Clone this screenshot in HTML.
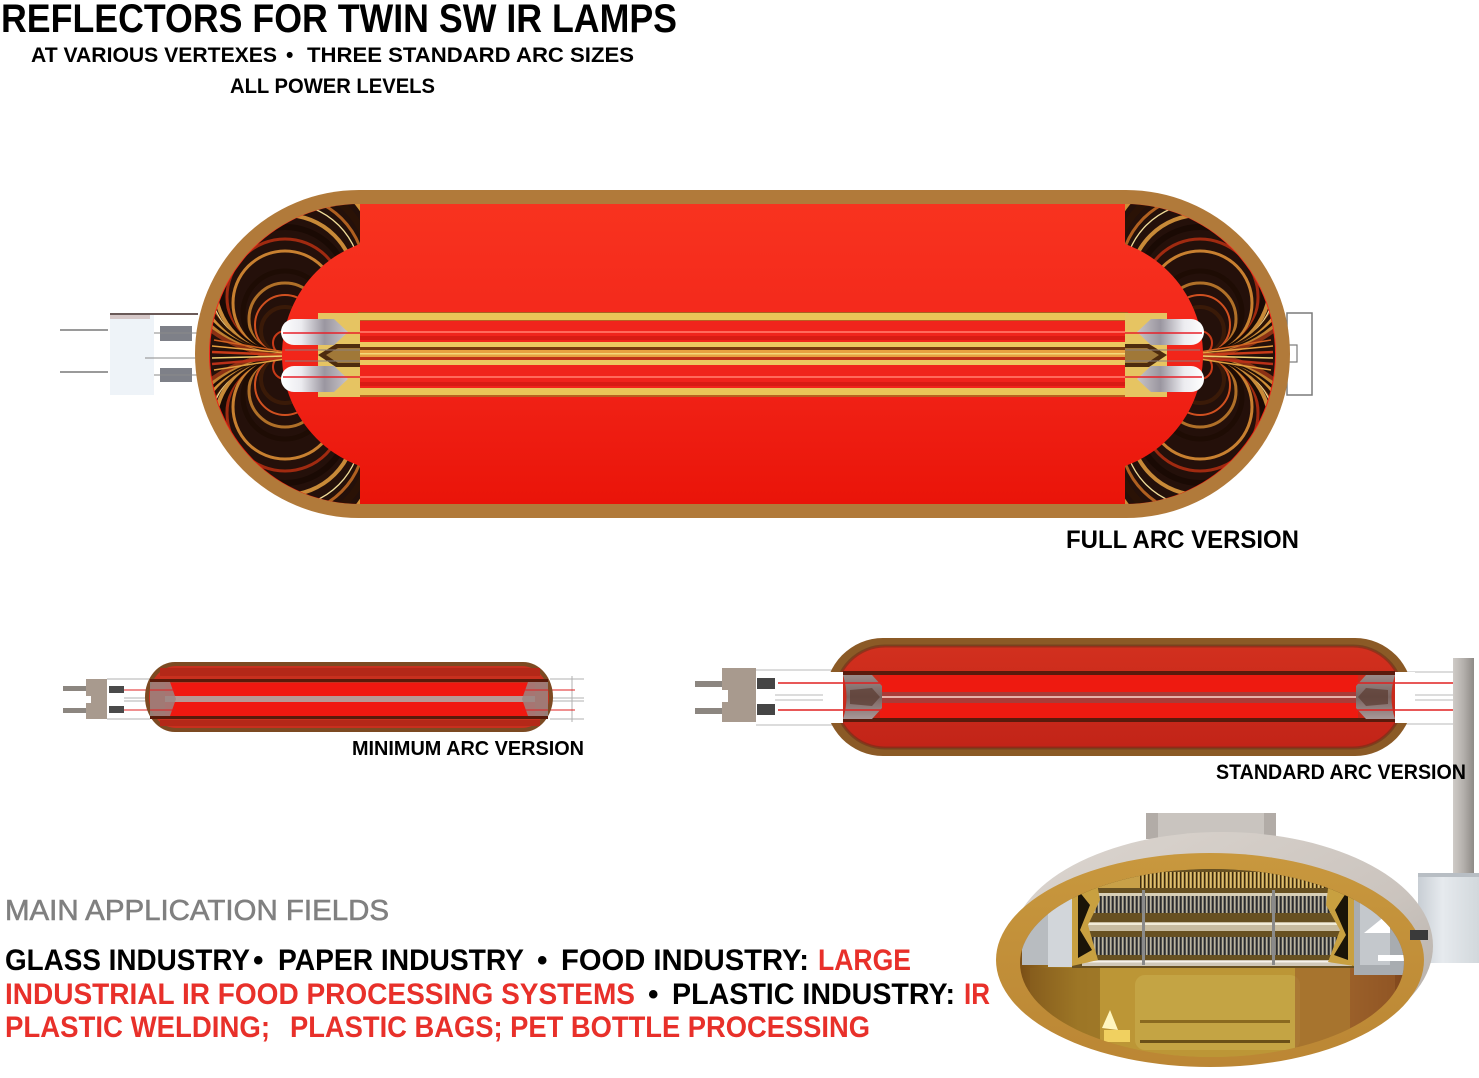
<!DOCTYPE html>
<html><head><meta charset="utf-8"><style>
html,body{margin:0;padding:0;background:#fff;}
svg{display:block;}
text{font-family:"Liberation Sans",sans-serif;}
</style></head><body>
<svg width="1479" height="1078" viewBox="0 0 1479 1078" xmlns="http://www.w3.org/2000/svg" xmlns:xlink="http://www.w3.org/1999/xlink">
<defs>
 <linearGradient id="redFull" x1="0" y1="0" x2="0" y2="1">
  <stop offset="0" stop-color="#f8331f"/>
  <stop offset="0.5" stop-color="#f2261a"/>
  <stop offset="1" stop-color="#ea1409"/>
 </linearGradient>
 <linearGradient id="redStd" x1="0" y1="0" x2="0" y2="1">
  <stop offset="0" stop-color="#d2301e"/>
  <stop offset="1" stop-color="#c22418"/>
 </linearGradient>
 <linearGradient id="silver" x1="0" y1="0" x2="1" y2="0">
  <stop offset="0" stop-color="#ffffff"/>
  <stop offset="0.3" stop-color="#ececf0"/>
  <stop offset="0.65" stop-color="#9a96a0"/>
  <stop offset="1" stop-color="#c8c4c8"/>
 </linearGradient>
 <linearGradient id="capGray" x1="0" y1="0" x2="0" y2="1">
  <stop offset="0" stop-color="#9a8a88"/>
  <stop offset="0.5" stop-color="#7a6460"/>
  <stop offset="1" stop-color="#a89898"/>
 </linearGradient>
 <linearGradient id="post" x1="0" y1="0" x2="1" y2="0">
  <stop offset="0" stop-color="#cfcbc7"/>
  <stop offset="0.5" stop-color="#b4b0ac"/>
  <stop offset="1" stop-color="#8e8a86"/>
 </linearGradient>
 <linearGradient id="shell" x1="0" y1="0" x2="1" y2="1">
  <stop offset="0" stop-color="#dcd6d0"/>
  <stop offset="0.6" stop-color="#cbc4be"/>
  <stop offset="1" stop-color="#aea8a2"/>
 </linearGradient>
 <linearGradient id="ring" x1="0" y1="0" x2="0" y2="1">
  <stop offset="0" stop-color="#c8983e"/>
  <stop offset="1" stop-color="#bb8634"/>
 </linearGradient>
 <linearGradient id="inner" x1="0" y1="0" x2="1" y2="0">
  <stop offset="0" stop-color="#7a4e16"/>
  <stop offset="0.15" stop-color="#b08a2c"/>
  <stop offset="0.5" stop-color="#c4a040"/>
  <stop offset="0.8" stop-color="#a87030"/>
  <stop offset="1" stop-color="#80461c"/>
 </linearGradient>
 <linearGradient id="box" x1="0" y1="0" x2="1" y2="0">
  <stop offset="0" stop-color="#c8ced4"/>
  <stop offset="0.4" stop-color="#e6eaee"/>
  <stop offset="1" stop-color="#d2d8dc"/>
 </linearGradient>
 <pattern id="coil" width="4" height="30" patternUnits="userSpaceOnUse">
  <rect width="4" height="30" fill="#707070"/>
  <rect width="1.5" height="30" fill="#2a2a2a"/>
  <rect x="2.2" width="1" height="30" fill="#d0c6a8"/>
 </pattern>
 <pattern id="coilGold" width="4" height="30" patternUnits="userSpaceOnUse">
  <rect width="4" height="30" fill="#b08a3a"/>
  <rect width="1.3" height="30" fill="#3a2a10"/>
  <rect x="2.3" width="1" height="30" fill="#f0d890"/>
 </pattern>
 <mask id="mL" maskUnits="userSpaceOnUse" x="0" y="0" width="1479" height="1078">
  <rect x="0" y="0" width="1479" height="1078" fill="black"/>
  <path d="M360,204 A150,150 0 0 0 360,504 Z" fill="white"/>
  <circle cx="400" cy="355" r="118" fill="black"/>
 </mask>
 <clipPath id="clipInner">
  <ellipse cx="1212" cy="963" rx="192" ry="94"/>
 </clipPath>
 <g id="arcsTop" fill="none">
  <circle cx="285" cy="343" r="12" stroke="#c83a18" stroke-width="2"/>
  <circle cx="285" cy="331" r="24" stroke="#3a1a08" stroke-width="4"/>
  <circle cx="285" cy="325" r="30" stroke="#d05020" stroke-width="2"/>
  <circle cx="285" cy="319" r="36" stroke="#b07028" stroke-width="3"/>
  <circle cx="285" cy="313" r="42" stroke="#1e0c04" stroke-width="5"/>
  <circle cx="285" cy="303" r="52" stroke="#c88030" stroke-width="3"/>
  <circle cx="285" cy="297" r="58" stroke="#a02a10" stroke-width="3"/>
  <circle cx="285" cy="291" r="64" stroke="#1a0a04" stroke-width="6"/>
  <circle cx="285" cy="285" r="70" stroke="#c88a38" stroke-width="4"/>
  <circle cx="285" cy="279" r="76" stroke="#f0dc98" stroke-width="1.3"/>
  <circle cx="285" cy="275" r="80" stroke="#b06020" stroke-width="3"/>
  <circle cx="285" cy="269" r="86" stroke="#2a1206" stroke-width="7"/>
  <circle cx="285" cy="262" r="93" stroke="#d09038" stroke-width="5"/>
  <circle cx="285" cy="256" r="99" stroke="#b83818" stroke-width="2.5"/>
  <circle cx="285" cy="250" r="105" stroke="#1e0e06" stroke-width="7"/>
  <circle cx="285" cy="243" r="112" stroke="#c08030" stroke-width="5"/>
  <circle cx="285" cy="237" r="118" stroke="#f2e2a0" stroke-width="1.3"/>
  <circle cx="285" cy="231" r="124" stroke="#8a3014" stroke-width="4"/>
 </g>
 <g id="endL">
  <g mask="url(#mL)">
   <rect x="200" y="200" width="170" height="310" fill="#24100a"/>
   <use xlink:href="#arcsTop"/>
   <use xlink:href="#arcsTop" transform="translate(0,710) scale(1,-1)"/>
   <g stroke-width="1.5" fill="none">
    <path d="M212,346 L285,353" stroke="#e8a040"/>
    <path d="M212,352 L285,355" stroke="#c83a18" stroke-width="2.5"/>
    <path d="M212,358 L285,356" stroke="#f0d070"/>
    <path d="M212,364 L285,358" stroke="#b83018" stroke-width="2.5"/>
    <path d="M214,340 L285,352" stroke="#d06020"/>
    <path d="M214,370 L285,359" stroke="#e0a040"/>
   </g>
  </g>
  <rect x="318" y="313" width="42" height="84" fill="#e6c462"/>
  <path d="M318,355 L336,344 L360,344 L360,367 L336,367 Z" fill="#4e2c0e"/>
  <path d="M326,355 L338,348 L360,348 L360,363 L338,363 Z" fill="#a07838"/>
  <path d="M294,319 L334,319 L348,332 L334,345 L294,345 A13,13 0 0 1 294,319 Z" fill="url(#silver)"/>
  <path d="M294,366 L334,366 L348,379 L334,392 L294,392 A13,13 0 0 1 294,366 Z" fill="url(#silver)"/>
  <line x1="283" y1="333" x2="360" y2="333" stroke="#e8202a" stroke-width="1.6"/>
  <line x1="283" y1="377" x2="360" y2="377" stroke="#e8202a" stroke-width="1.6"/>
  <line x1="285" y1="350" x2="360" y2="350" stroke="#8a8080" stroke-width="1"/>
  <line x1="285" y1="361" x2="360" y2="361" stroke="#8a8080" stroke-width="1"/>
 </g>
</defs>

<!-- ================= TITLES ================= -->
<text x="1" y="32" font-size="40" font-weight="bold" fill="#000" textLength="676" lengthAdjust="spacingAndGlyphs">REFLECTORS FOR TWIN SW IR LAMPS</text>
<text x="31" y="62" font-size="21" font-weight="bold" fill="#000" textLength="246" lengthAdjust="spacingAndGlyphs">AT VARIOUS VERTEXES</text>
<text x="286" y="62" font-size="21" font-weight="bold" fill="#000">•</text>
<text x="307" y="62" font-size="21" font-weight="bold" fill="#000" textLength="327" lengthAdjust="spacingAndGlyphs">THREE STANDARD ARC SIZES</text>
<text x="230" y="93" font-size="21" font-weight="bold" fill="#000" textLength="205" lengthAdjust="spacingAndGlyphs">ALL POWER LEVELS</text>

<!-- ================= FULL ARC LAMP ================= -->
<line x1="60" y1="330" x2="108" y2="330" stroke="#9a9a9a" stroke-width="2"/>
<line x1="60" y1="372" x2="108" y2="372" stroke="#9a9a9a" stroke-width="2"/>
<rect x="110" y="313" width="44" height="82" fill="#eef3f8"/>
<rect x="110" y="313" width="88" height="2" fill="#6a5a58"/>
<rect x="110" y="315" width="40" height="4" fill="#d6c8c8"/>
<line x1="145" y1="358" x2="200" y2="358" stroke="#8a8a8a" stroke-width="1"/>
<rect x="160" y="326" width="32" height="15" fill="#7e8088"/>
<rect x="160" y="368" width="32" height="14" fill="#7e8088"/>
<line x1="154" y1="333" x2="200" y2="333" stroke="#8a8a8a" stroke-width="1"/>
<line x1="154" y1="375" x2="200" y2="375" stroke="#8a8a8a" stroke-width="1"/>
<rect x="1287" y="313" width="25" height="82" fill="#fff" stroke="#7a7a7a" stroke-width="1.5"/>
<rect x="1287" y="345" width="10" height="17" fill="#fff" stroke="#7a7a7a" stroke-width="1.2"/>

<rect x="195" y="190" width="1095" height="328" rx="164" ry="164" fill="#b17a3a"/>
<rect x="209" y="204" width="1067" height="300" rx="150" ry="150" fill="url(#redFull)"/>

<g>
 <rect x="358" y="312" width="770" height="1.5" fill="#a86020"/>
 <rect x="358" y="313" width="770" height="7" fill="#eac458"/>
 <rect x="358" y="320" width="770" height="1.5" fill="#b86020"/>
 <rect x="358" y="321" width="770" height="21" fill="#f0241c"/>
 <rect x="358" y="331" width="770" height="2" fill="#ff6a5c"/>
 <rect x="358" y="336" width="770" height="4" fill="#d81c14"/>
 <rect x="358" y="342" width="770" height="5" fill="#ecc860"/>
 <rect x="358" y="347" width="770" height="3" fill="#7a3a10"/>
 <rect x="358" y="350" width="770" height="7" fill="#e8a040"/>
 <rect x="358" y="353" width="770" height="1.5" fill="#f4d878"/>
 <rect x="358" y="357" width="770" height="3" fill="#c03018"/>
 <rect x="358" y="360" width="770" height="5" fill="#ecc860"/>
 <rect x="358" y="365" width="770" height="23" fill="#f0241c"/>
 <rect x="358" y="376" width="770" height="2" fill="#ff6a5c"/>
 <rect x="358" y="382" width="770" height="4" fill="#d81c14"/>
 <rect x="358" y="388" width="770" height="7" fill="#eac458"/>
 <rect x="358" y="395" width="770" height="2" fill="#b86020"/>
</g>
<use xlink:href="#endL"/>
<use xlink:href="#endL" transform="translate(1485,0) scale(-1,1)"/>

<text x="1066" y="548" font-size="25" font-weight="bold" fill="#000" textLength="233" lengthAdjust="spacingAndGlyphs">FULL ARC VERSION</text>

<!-- ================= MINIMUM ARC LAMP ================= -->
<rect x="63" y="686" width="23" height="5" fill="#8c8680"/>
<rect x="63" y="708" width="23" height="5" fill="#8c8680"/>
<path d="M86,679 L107,679 L107,719 L86,719 L86,703 L91,703 L91,696 L86,696 Z" fill="#a89a8e"/>
<rect x="109" y="686" width="15" height="7" fill="#4a4a4a"/>
<rect x="109" y="706" width="15" height="7" fill="#4a4a4a"/>
<g stroke="#b0b0b0" stroke-width="1">
 <line x1="107" y1="679" x2="150" y2="679"/>
 <line x1="124" y1="698" x2="150" y2="698"/>
 <line x1="124" y1="701" x2="150" y2="701"/>
 <line x1="107" y1="719" x2="150" y2="719"/>
 <line x1="550" y1="679" x2="584" y2="679"/>
 <line x1="550" y1="698" x2="584" y2="698"/>
 <line x1="550" y1="701" x2="584" y2="701"/>
 <line x1="550" y1="719" x2="584" y2="719"/>
 <line x1="572" y1="676" x2="572" y2="722"/>
</g>
<line x1="124" y1="690" x2="150" y2="690" stroke="#e02020" stroke-width="1"/>
<line x1="124" y1="710" x2="150" y2="710" stroke="#e02020" stroke-width="1"/>
<line x1="550" y1="690" x2="575" y2="690" stroke="#e02020" stroke-width="1"/>
<line x1="550" y1="710" x2="575" y2="710" stroke="#e02020" stroke-width="1"/>
<rect x="145" y="662" width="408" height="70" rx="30" ry="35" fill="#7c4a22"/>
<rect x="149" y="666" width="400" height="62" rx="27" ry="31" fill="#c8301e"/>
<rect x="160" y="668" width="380" height="8" fill="#b42818"/>
<rect x="160" y="720" width="380" height="6" fill="#b42818"/>
<rect x="150" y="679" width="398" height="3" fill="#5a1a0a"/>
<rect x="165" y="683" width="370" height="13" fill="#f01810"/>
<rect x="165" y="696" width="370" height="6" fill="#b89894"/>
<rect x="165" y="702" width="370" height="14" fill="#f01810"/>
<rect x="150" y="716" width="398" height="3" fill="#5a1a0a"/>
<path d="M150,682 L170,682 L176,699 L170,716 L150,716 Z" fill="#9a8684" opacity="0.85"/>
<path d="M548,682 L528,682 L522,699 L528,716 L548,716 Z" fill="#9a8684" opacity="0.85"/>
<line x1="150" y1="690" x2="176" y2="690" stroke="#e02020" stroke-width="1"/>
<line x1="150" y1="710" x2="176" y2="710" stroke="#e02020" stroke-width="1"/>
<line x1="522" y1="690" x2="548" y2="690" stroke="#e02020" stroke-width="1"/>
<line x1="522" y1="710" x2="548" y2="710" stroke="#e02020" stroke-width="1"/>
<text x="352" y="755" font-size="20" font-weight="bold" fill="#000" textLength="232" lengthAdjust="spacingAndGlyphs">MINIMUM ARC VERSION</text>

<!-- ================= STANDARD ARC LAMP ================= -->
<rect x="695" y="681" width="28" height="6" fill="#8c8680"/>
<rect x="695" y="708" width="28" height="6" fill="#8c8680"/>
<path d="M722,668 L756,668 L756,722 L722,722 L722,702 L728,702 L728,690 L722,690 Z" fill="#a89a8e"/>
<rect x="757" y="678" width="18" height="11" fill="#454545"/>
<rect x="757" y="704" width="18" height="11" fill="#454545"/>
<g stroke="#b8b8b8" stroke-width="1">
 <line x1="756" y1="670" x2="840" y2="670"/>
 <line x1="775" y1="695" x2="840" y2="695"/>
 <line x1="775" y1="700" x2="840" y2="700"/>
 <line x1="756" y1="725" x2="840" y2="725"/>
 <line x1="1400" y1="672" x2="1462" y2="672"/>
 <line x1="1400" y1="695" x2="1462" y2="695"/>
 <line x1="1400" y1="700" x2="1462" y2="700"/>
 <line x1="1400" y1="724" x2="1462" y2="724"/>
</g>
<rect x="825" y="638" width="588" height="118" rx="58" ry="59" fill="#8b5a26"/>
<rect x="835" y="646" width="568" height="102" rx="50" ry="51" fill="url(#redStd)" stroke="#6a3018" stroke-width="3" stroke-opacity="0.55"/>
<rect x="823" y="672" width="20" height="51" fill="#fff"/>
<rect x="1395" y="672" width="20" height="51" fill="#fff"/>
<rect x="843" y="671" width="552" height="4" fill="#5a1a0c"/>
<rect x="880" y="675" width="478" height="17" fill="#ee1a10"/>
<rect x="880" y="692" width="478" height="11" fill="#a83c38"/>
<rect x="880" y="696" width="478" height="2" fill="#e8b0a8"/>
<rect x="880" y="703" width="478" height="15" fill="#ee1a10"/>
<rect x="843" y="718" width="552" height="4" fill="#5a1a0c"/>
<path d="M843,675 L872,675 L882,686 L882,708 L872,719 L843,719 Q850,697 843,675 Z" fill="url(#capGray)"/>
<path d="M1395,675 L1366,675 L1356,686 L1356,708 L1366,719 L1395,719 Q1388,697 1395,675 Z" fill="url(#capGray)"/>
<path d="M850,690 L872,688 L880,697 L872,706 L850,704 Z" fill="#5a3a30" opacity="0.7"/>
<path d="M1388,690 L1366,688 L1358,697 L1366,706 L1388,704 Z" fill="#5a3a30" opacity="0.7"/>
<line x1="778" y1="683" x2="882" y2="683" stroke="#e02020" stroke-width="1.5"/>
<line x1="778" y1="710" x2="882" y2="710" stroke="#e02020" stroke-width="1.5"/>
<line x1="1356" y1="683" x2="1455" y2="683" stroke="#e02020" stroke-width="1.5"/>
<line x1="1356" y1="710" x2="1455" y2="710" stroke="#e02020" stroke-width="1.5"/>
<rect x="1453" y="658" width="21" height="222" fill="url(#post)"/>
<text x="1216" y="779" font-size="21" font-weight="bold" fill="#000" textLength="250" lengthAdjust="spacingAndGlyphs">STANDARD ARC VERSION</text>

<!-- ================= 3D REFLECTOR ================= -->
<rect x="1418" y="873" width="61" height="90" fill="url(#box)"/>
<rect x="1418" y="873" width="61" height="4" fill="#b8bec4"/>
<rect x="1146" y="813" width="130" height="26" fill="#c9c4bf"/>
<rect x="1146" y="813" width="12" height="26" fill="#b2aca7"/>
<rect x="1264" y="813" width="12" height="26" fill="#b2aca7"/>
<ellipse cx="1222" cy="946" rx="211" ry="114" fill="url(#shell)"/>
<ellipse cx="1210" cy="960" rx="214" ry="107" fill="url(#ring)"/>
<ellipse cx="1212" cy="963" rx="192" ry="94" fill="url(#inner)"/>
<g clip-path="url(#clipInner)">
 <rect x="1100" y="968" width="250" height="95" fill="#bc9636"/>
 <rect x="1135" y="975" width="165" height="75" rx="10" fill="#c4a444"/>
 <rect x="1140" y="1020" width="150" height="3" fill="#8a6a20"/>
 <rect x="1140" y="1040" width="150" height="3" fill="#6a5018"/>
 <rect x="1295" y="968" width="100" height="95" fill="#9a5e2a" opacity="0.6"/>
 <rect x="1030" y="968" width="70" height="95" fill="#8a6220" opacity="0.5"/>
 <path d="M1102,1028 L1110,1010 L1118,1030 Z" fill="#fff6c0"/>
 <rect x="1104" y="1030" width="26" height="12" fill="#f0d060"/>
 <rect x="1022" y="880" width="40" height="85" fill="#b8bcc0"/>
 <rect x="1048" y="893" width="32" height="74" fill="#d2d6da"/>
 <rect x="1072" y="868" width="282" height="100" fill="#3a2c14"/>
 <rect x="1072" y="868" width="282" height="100" fill="#a07c30" opacity="0.45"/>
 <rect x="1140" y="872" width="185" height="16" fill="url(#coilGold)"/>
 <rect x="1085" y="872" width="55" height="16" fill="#c8a048"/>
 <rect x="1090" y="893" width="250" height="20" fill="url(#coil)"/>
 <rect x="1090" y="893" width="250" height="3" fill="#d8d0b8"/>
 <rect x="1082" y="922" width="262" height="9" fill="#c8bca0"/>
 <rect x="1082" y="923" width="262" height="2" fill="#f2ecd8"/>
 <rect x="1090" y="937" width="250" height="18" fill="url(#coil)"/>
 <rect x="1082" y="960" width="270" height="6" fill="#d0c8b8"/>
 <rect x="1082" y="961" width="270" height="1.5" fill="#f6f2ea"/>
 <rect x="1142" y="890" width="3" height="75" fill="#8a8a8a"/>
 <rect x="1272" y="890" width="3" height="75" fill="#8a8a8a"/>
 <path d="M1072,880 L1095,872 L1100,900 L1088,925 L1098,960 L1072,966 Z" fill="#c8a040"/>
 <path d="M1078,890 L1090,905 L1080,930 L1092,950 L1078,958 Z" fill="#1a1408"/>
 <path d="M1354,876 L1330,872 L1326,905 L1340,930 L1328,962 L1354,966 Z" fill="#c8a040"/>
 <path d="M1348,890 L1335,910 L1346,935 L1334,955 L1348,960 Z" fill="#1a1408"/>
 <rect x="1354" y="877" width="66" height="98" fill="#a8acb0"/>
 <rect x="1360" y="885" width="30" height="80" fill="#c4c8cc"/>
 <path d="M1364,933 L1390,912 L1390,933 Z" fill="#ffffff"/>
 <rect x="1378" y="955" width="26" height="6" fill="#ffffff"/>
 <rect x="1390" y="877" width="33" height="14" fill="#202020"/>
</g>
<rect x="1410" y="930" width="18" height="10" fill="#3a3a3a"/>

<!-- ================= APPLICATION TEXT ================= -->
<text x="5" y="920" font-size="29" fill="#808080" stroke="#808080" stroke-width="0.6" textLength="384" lengthAdjust="spacingAndGlyphs">MAIN APPLICATION FIELDS</text>

<g font-size="30" font-weight="bold">
 <text x="5" y="970" fill="#000" textLength="245" lengthAdjust="spacingAndGlyphs">GLASS INDUSTRY</text>
 <text x="253" y="970" fill="#000">•</text>
 <text x="278" y="970" fill="#000" textLength="246" lengthAdjust="spacingAndGlyphs">PAPER INDUSTRY</text>
 <text x="537" y="970" fill="#000">•</text>
 <text x="561" y="970" fill="#000" textLength="248" lengthAdjust="spacingAndGlyphs">FOOD INDUSTRY:</text>
 <text x="818" y="970" fill="#e8302a" textLength="93" lengthAdjust="spacingAndGlyphs">LARGE</text>

 <text x="5" y="1004" fill="#e8302a" textLength="630" lengthAdjust="spacingAndGlyphs">INDUSTRIAL IR FOOD PROCESSING SYSTEMS</text>
 <text x="648" y="1004" fill="#000">•</text>
 <text x="672" y="1004" fill="#000" textLength="283" lengthAdjust="spacingAndGlyphs">PLASTIC INDUSTRY:</text>
 <text x="964" y="1004" fill="#e8302a" textLength="26" lengthAdjust="spacingAndGlyphs">IR</text>

 <text x="5" y="1037" fill="#e8302a" textLength="265" lengthAdjust="spacingAndGlyphs">PLASTIC WELDING;</text>
 <text x="290" y="1037" fill="#e8302a" textLength="580" lengthAdjust="spacingAndGlyphs">PLASTIC BAGS; PET BOTTLE PROCESSING</text>
</g>
</svg>
</body></html>
